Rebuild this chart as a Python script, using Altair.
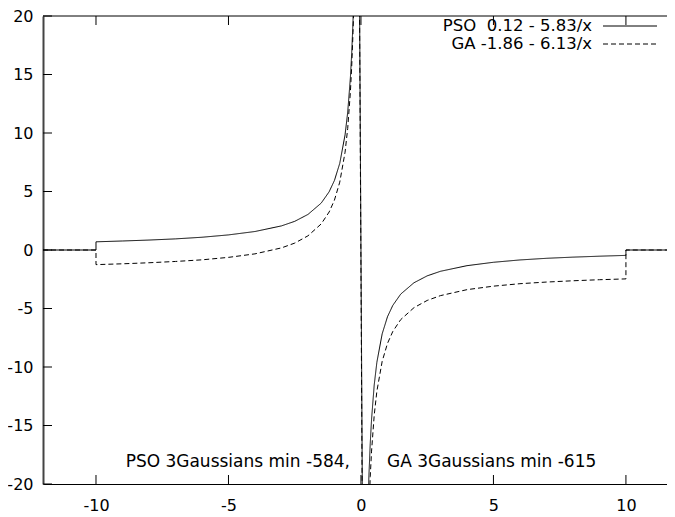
import altair as alt
import pandas as pd

# ---- data ----
x_vals = [-12, -10, -10, -9, -8, -7, -6, -5, -4, -3, -2.5, -2, -1.5, -1.2, -1, -0.8, -0.6, -0.5,
          -0.4, -0.35, -0.3, -0.25, -0.121, 0.121, 0.25, 0.3, 0.35, 0.4, 0.5, 0.6, 0.8, 1, 1.2, 1.5,
          2, 2.5, 3, 4, 5, 6, 7, 8, 9, 10, 10, 12]
pso_vals = [0, 0, 0.70, 0.77, 0.85, 0.95, 1.09, 1.29, 1.58, 2.06, 2.45, 3.04, 4.01, 4.98, 5.95, 7.41,
            9.84, 11.78, 14.70, 16.78, 19.55, 23.44, 48.30, -48.06, -23.20, -19.31, -16.54, -14.46,
            -11.54, -9.60, -7.17, -5.71, -4.74, -3.77, -2.80, -2.21, -1.82, -1.34, -1.05, -0.85,
            -0.71, -0.61, -0.53, -0.46, 0, 0]
ga_vals = [0, 0, -1.25, -1.18, -1.09, -0.98, -0.84, -0.63, -0.33, 0.18, 0.59, 1.21, 2.23, 3.25, 4.27,
           5.80, 8.36, 10.40, 13.47, 15.65, 18.57, 22.66, 48.80, -52.52, -26.38, -22.29, -19.37,
           -17.19, -14.12, -12.08, -9.52, -7.99, -6.97, -5.95, -4.93, -4.31, -3.90, -3.39, -3.09,
           -2.88, -2.74, -2.63, -2.54, -2.47, 0, 0]
x_ticks = [-10, -5, 0, 5, 10]
y_ticks = [-20, -15, -10, -5, 0, 5, 10, 15, 20]
series_names = ["PSO", "GA"]
legend_labels = ["PSO\u00a0 0.12 - 5.83/x", "GA -1.86 - 6.13/x"]
note_left = "PSO 3Gaussians min -584,"
note_right = "GA 3Gaussians min -615"

rows = []
for i, xv in enumerate(x_vals):
    rows.append({"x": xv, "y": pso_vals[i], "series": "PSO", "i": i})
    rows.append({"x": xv, "y": ga_vals[i], "series": "GA", "i": i})
df = pd.DataFrame(rows)

W, H = 624, 468
FONT = "DejaVu Sans"
TXT = 17
LEG = 16.5
dash_range = [[1, 0], [5, 3]]
label_expr = "toString(datum.value)"

xscale = alt.Scale(domain=[-12, 11.55], nice=False, zero=False)
yscale = alt.Scale(domain=[-20, 20], nice=False, zero=False)
xaxis = alt.Axis(values=x_ticks, title=None, ticks=False, grid=False, labelPadding=13,
                 labelFontSize=16, labelFont=FONT, labelColor="black", domainColor="black",
                 labelFlush=False, labelOverlap=False, labelExpr=label_expr)
yaxis = alt.Axis(values=y_ticks, title=None, ticks=False, grid=False, labelPadding=10,
                 labelFontSize=16, labelFont=FONT, labelColor="black", domainColor="#444",
                 domainWidth=2, labelFlush=False, labelOverlap=False, labelExpr=label_expr)

lines = alt.Chart(df).mark_line(clip=True, color="black", strokeWidth=1).encode(
    x=alt.X("x:Q", scale=xscale, axis=xaxis),
    y=alt.Y("y:Q", scale=yscale, axis=yaxis),
    strokeDash=alt.StrokeDash("series:N", scale=alt.Scale(domain=series_names, range=dash_range),
                              legend=None),
    detail="series:N",
    order="i:Q",
)

xt = pd.DataFrame({"v": x_ticks})
yt = pd.DataFrame({"v": y_ticks})
one = pd.DataFrame({"a": [0]})

bottom_ticks = alt.Chart(xt).mark_rule(color="black").encode(
    x=alt.X("v:Q", scale=xscale, axis=xaxis), y=alt.value(H), y2=alt.value(H - 9))
top_ticks = alt.Chart(xt).mark_rule(color="black").encode(
    x=alt.X("v:Q", scale=xscale, axis=xaxis), y=alt.value(0), y2=alt.value(9))
left_ticks = alt.Chart(yt).mark_rule(color="black").encode(
    y=alt.Y("v:Q", scale=yscale, axis=yaxis), x=alt.value(0), x2=alt.value(9))
top_border = alt.Chart(one).mark_rule(color="black").encode(
    x=alt.value(0), x2=alt.value(W), y=alt.value(0))

layers = [lines, bottom_ticks, top_ticks, left_ticks, top_border]

leg_y = [10, 28]
for k in range(2):
    layers.append(alt.Chart(one).mark_text(align="right", baseline="middle", font=FONT,
                                          fontSize=LEG, color="black", text=legend_labels[k]).encode(
        x=alt.value(549), y=alt.value(leg_y[k])))
    layers.append(alt.Chart(one).mark_rule(color="black", strokeWidth=1,
                                          strokeDash=dash_range[k]).encode(
        x=alt.value(560), x2=alt.value(614), y=alt.value(leg_y[k])))

layers.append(alt.Chart(one).mark_text(align="right", baseline="middle", font=FONT, fontSize=TXT,
                                       color="black", text=note_left).encode(
    x=alt.value(307), y=alt.value(446)))
layers.append(alt.Chart(one).mark_text(align="left", baseline="middle", font=FONT, fontSize=TXT,
                                       color="black", text=note_right).encode(
    x=alt.value(344), y=alt.value(446)))

chart = alt.layer(*layers).properties(
    width=W, height=H,
    autosize=alt.AutoSizeParams(type="none"),
    padding={"left": 35, "top": 8, "right": 0, "bottom": 30},
    background="white",
).configure_view(stroke=None)

chart.save("out.html", embed_options={"renderer": "svg", "actions": False})
